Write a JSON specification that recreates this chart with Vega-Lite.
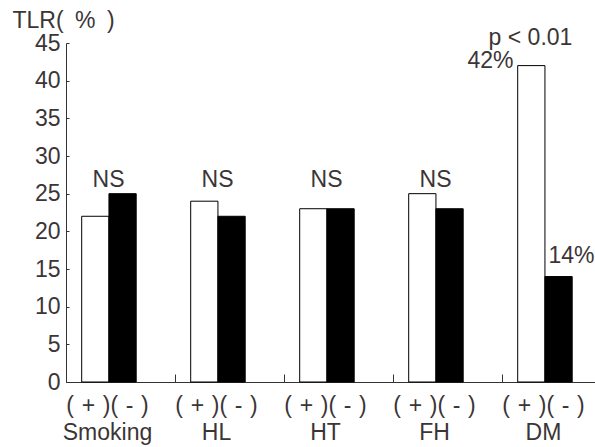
{
  "$schema": "https://vega.github.io/schema/vega-lite/v6.json",
  "autosize": {"type": "none"},
  "padding": {"left": 66, "top": 43, "right": 0, "bottom": 65},
  "width": 529,
  "height": 339,
  "background": "white",
  "config": {
    "view": {"stroke": null},
    "font": "Liberation Sans",
    "text": {"font": "Liberation Sans", "fontSize": 23, "color": "#3b3536"},
    "axisY": {
      "grid": false,
      "domainColor": "#333333",
      "tickColor": "#333333",
      "tickSize": -3,
      "labelPadding": 9,
      "labelOverlap": false,
      "labelFlush": false,
      "labelFont": "Liberation Sans",
      "labelFontSize": 23,
      "labelColor": "#3b3536",
      "titleFont": "Liberation Sans",
      "titleFontSize": 23,
      "titleFontWeight": "normal",
      "titleColor": "#3b3536",
      "titleAngle": 0,
      "titleAlign": "left",
      "titleBaseline": "middle",
      "titleX": -54,
      "titleY": -23
    }
  },
  "data": {
    "values": [
      {"group": "Smoking", "sign": "+", "value": 22, "label": ""},
      {"group": "Smoking", "sign": "-", "value": 25, "label": ""},
      {"group": "HL", "sign": "+", "value": 24, "label": ""},
      {"group": "HL", "sign": "-", "value": 22, "label": ""},
      {"group": "HT", "sign": "+", "value": 23, "label": ""},
      {"group": "HT", "sign": "-", "value": 23, "label": ""},
      {"group": "FH", "sign": "+", "value": 25, "label": ""},
      {"group": "FH", "sign": "-", "value": 23, "label": ""},
      {"group": "DM", "sign": "+", "value": 42, "label": "42%"},
      {"group": "DM", "sign": "-", "value": 14, "label": "14%"}
    ]
  },
  "encoding": {
    "x": {
      "field": "group",
      "type": "nominal",
      "sort": ["Smoking", "HL", "HT", "FH", "DM"],
      "scale": {"range": [0, 545], "paddingInner": 0, "paddingOuter": 0},
      "axis": {
        "title": null,
        "domainColor": "#333333",
        "tickColor": "#333333",
        "bandPosition": 0,
        "tickSize": -8,
        "labelOffset": -13,
        "labelPadding": 20,
        "labelFont": "Liberation Sans",
        "labelFontSize": 23,
        "labelColor": "#3b3536",
        "labelLineHeight": 27,
        "labelBaseline": "top",
        "labelAngle": 0,
        "labelAlign": "center",
        "labelOverlap": false,
        "labelFlush": false,
        "labelExpr": "['(\u2004+\u2004)(\u2004-\u2004)', datum.value]"
      }
    }
  },
  "layer": [
    {
      "mark": {"type": "bar", "stroke": "black", "strokeWidth": 1},
      "encoding": {
        "xOffset": {
          "field": "sign",
          "type": "nominal",
          "sort": ["+", "-"],
          "scale": {"paddingInner": 0, "paddingOuter": 1.18, "align": 0.288}
        },
        "y": {
          "field": "value",
          "type": "quantitative",
          "scale": {"domain": [0, 45], "nice": false},
          "axis": {"values": [0, 5, 10, 15, 20, 25, 30, 35, 40, 45], "title": "TLR(\u2002%\u2002)"}
        },
        "fill": {
          "field": "sign",
          "type": "nominal",
          "scale": {"domain": ["+", "-"], "range": ["white", "black"]},
          "legend": null
        }
      }
    },
    {
      "transform": [{"filter": "datum.sign == '+' && datum.group != 'DM'"}],
      "mark": {"type": "text", "dx": -12, "baseline": "middle"},
      "encoding": {
        "y": {"datum": 26.8, "type": "quantitative", "axis": {"values": [0, 5, 10, 15, 20, 25, 30, 35, 40, 45], "title": "TLR(\u2002%\u2002)"}},
        "text": {"value": "NS"}
      }
    },
    {
      "transform": [{"filter": "datum.sign == '+' && datum.group == 'DM'"}],
      "mark": {"type": "text", "dx": -26, "baseline": "middle"},
      "encoding": {
        "y": {"datum": 45.7, "type": "quantitative", "axis": {"values": [0, 5, 10, 15, 20, 25, 30, 35, 40, 45], "title": "TLR(\u2002%\u2002)"}},
        "text": {"value": "p < 0.01"}
      }
    },
    {
      "transform": [{"filter": "datum.sign == '+' && datum.group == 'DM'"}],
      "mark": {"type": "text", "dx": -43, "dy": -5, "align": "right", "baseline": "middle"},
      "encoding": {
        "y": {"field": "value", "type": "quantitative", "axis": {"values": [0, 5, 10, 15, 20, 25, 30, 35, 40, 45], "title": "TLR(\u2002%\u2002)"}},
        "text": {"field": "label"}
      }
    },
    {
      "transform": [{"filter": "datum.sign == '-' && datum.group == 'DM'"}],
      "mark": {"type": "text", "dx": -8, "dy": -21, "align": "left", "baseline": "middle"},
      "encoding": {
        "y": {"field": "value", "type": "quantitative", "axis": {"values": [0, 5, 10, 15, 20, 25, 30, 35, 40, 45], "title": "TLR(\u2002%\u2002)"}},
        "text": {"field": "label"}
      }
    }
  ]
}
